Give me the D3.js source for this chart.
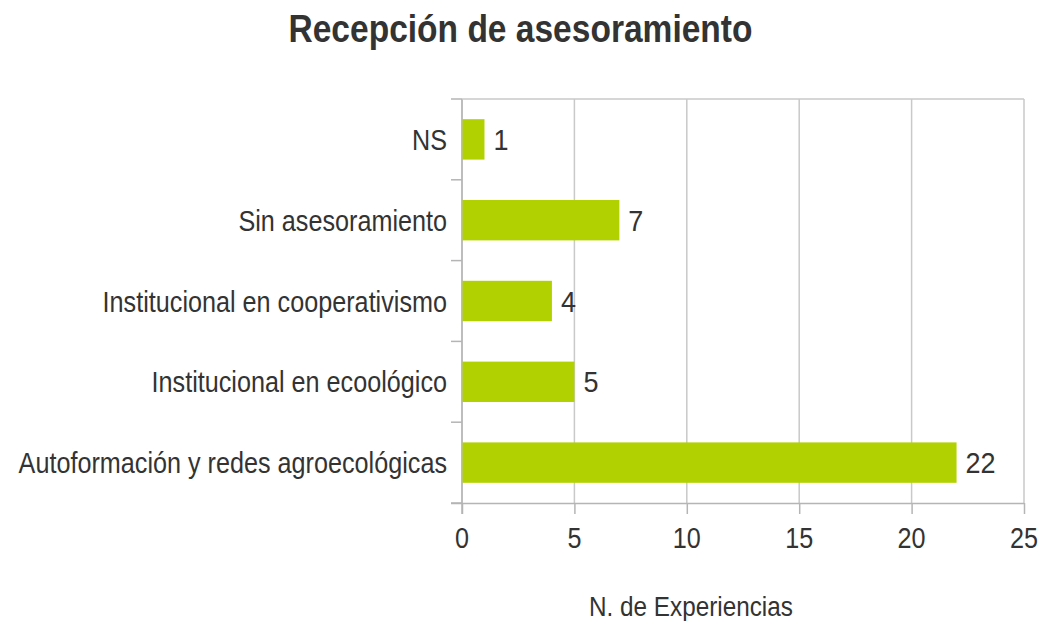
<!DOCTYPE html>
<html>
<head>
<meta charset="utf-8">
<script src="https://cdn.jsdelivr.net/npm/d3@7"></script>
<style>
  body { margin: 0; background: #fff; }
  svg { display: block; font-family: "Liberation Sans", Arial, sans-serif; }
</style>
</head>
<body>
<div id="chart"></div>
<script>
// datos del gráfico
const categories = [
  'NS',
  'Sin asesoramiento',
  'Institucional en cooperativismo',
  'Institucional en ecoológico',
  'Autoformación y redes agroecológicas'
]
const values = [1, 7, 4, 5, 22]
const xTicks = [0, 5, 10, 15, 20, 25]
const title = 'Recepción de asesoramiento'
const xTitle = 'N. de Experiencias'

const width = 1041
const height = 621
const margin = { top: 99, right: 17, bottom: 118, left: 462 }
const textColor = '#333333'
const barColor = '#b2d100'
const gridColor = '#c9c9c9'
const axisColor = '#b5b5b5'

const svg = d3.select('#chart')
  .append('svg')
  .attr('width', width)
  .attr('height', height)

const innerW = width - margin.left - margin.right
const innerH = height - margin.top - margin.bottom

const x = d3.scaleLinear()
  .domain([0, 25])
  .range([margin.left, margin.left + innerW])

const y = d3.scaleBand()
  .domain(categories)
  .range([margin.top, margin.top + innerH])
  .paddingInner(0.5)
  .paddingOuter(0.25)

// texto estrechado horizontalmente (el original es condensado)
function addText(g, px, py, str, opt) {
  const o = Object.assign({ size: 30, anchor: 'start', weight: 'normal', sx: 0.84 }, opt)
  return g.append('text')
    .attr('transform', `translate(${px},${py}) scale(${o.sx},1)`)
    .attr('text-anchor', o.anchor)
    .attr('font-size', o.size)
    .attr('font-weight', o.weight)
    .attr('fill', textColor)
    .text(str)
}

// rejilla vertical
const gridG = svg.append('g').classed('grid', true)
gridG.selectAll('line')
  .data(xTicks)
  .enter()
  .append('line')
  .attr('x1', d => x(d))
  .attr('x2', d => x(d))
  .attr('y1', margin.top)
  .attr('y2', margin.top + innerH)
  .attr('stroke', gridColor)
  .attr('stroke-width', 1.5)

// eje inferior
const xAxis = d3.axisBottom(x)
  .tickValues(xTicks)
  .tickSize(11)
  .tickFormat('')
const xAxisG = svg.append('g')
  .attr('transform', `translate(0,${margin.top + innerH})`)
  .call(xAxis)
xAxisG.select('.domain')
  .attr('d', `M${margin.left - 11},0.5H${x(25)}`)
xAxisG.selectAll('path, line')
  .attr('stroke', axisColor)
  .attr('stroke-width', 1.5)

// eje izquierdo: marcas entre categorías
const step = y.step()
const bounds = categories.map(c => y(c) - step * 0.25)
bounds.push(margin.top + innerH)
const yAxisG = svg.append('g').classed('y-axis', true)
yAxisG.append('line')
  .attr('x1', margin.left)
  .attr('x2', margin.left)
  .attr('y1', margin.top)
  .attr('y2', margin.top + innerH + 11)
  .attr('stroke', axisColor)
  .attr('stroke-width', 1.5)
yAxisG.selectAll('.tick')
  .data(bounds)
  .enter()
  .append('line')
  .classed('tick', true)
  .attr('x1', margin.left - 11)
  .attr('x2', margin.left)
  .attr('y1', d => d)
  .attr('y2', d => d)
  .attr('stroke', axisColor)
  .attr('stroke-width', 1.5)
// línea superior
yAxisG.append('line')
  .attr('x1', margin.left)
  .attr('x2', x(25))
  .attr('y1', margin.top)
  .attr('y2', margin.top)
  .attr('stroke', gridColor)
  .attr('stroke-width', 1.5)

// barras
svg.append('g').classed('bars', true)
  .selectAll('rect')
  .data(values)
  .enter()
  .append('rect')
  .attr('x', x(0) + 0.5)
  .attr('y', (d, i) => y(categories[i]))
  .attr('width', d => x(d) - x(0) - 0.5)
  .attr('height', y.bandwidth())
  .attr('fill', barColor)

// etiquetas de valores
const valG = svg.append('g').classed('values', true)
values.forEach((v, i) => {
  addText(valG, x(v) + 9, y(categories[i]) + y.bandwidth() / 2 + 10.5, v, { size: 30, sx: 0.9 })
})

// etiquetas de categorías
const catG = svg.append('g').classed('cats', true)
categories.forEach(c => {
  addText(catG, margin.left - 15, y(c) + y.bandwidth() / 2 + 10.5, c, { anchor: 'end' })
})

// etiquetas de marcas del eje x
const tickG = svg.append('g').classed('tick-labels', true)
xTicks.forEach(t => {
  addText(tickG, x(t), margin.top + innerH + 45, t, { anchor: 'middle', sx: 0.84 })
})

// títulos
addText(svg, width / 2, 42, title, { anchor: 'middle', size: 39, weight: 'bold', sx: 0.86 })
addText(svg, 691, 616, xTitle, { anchor: 'middle', size: 27, sx: 0.9 })
</script>
</body>
</html>
